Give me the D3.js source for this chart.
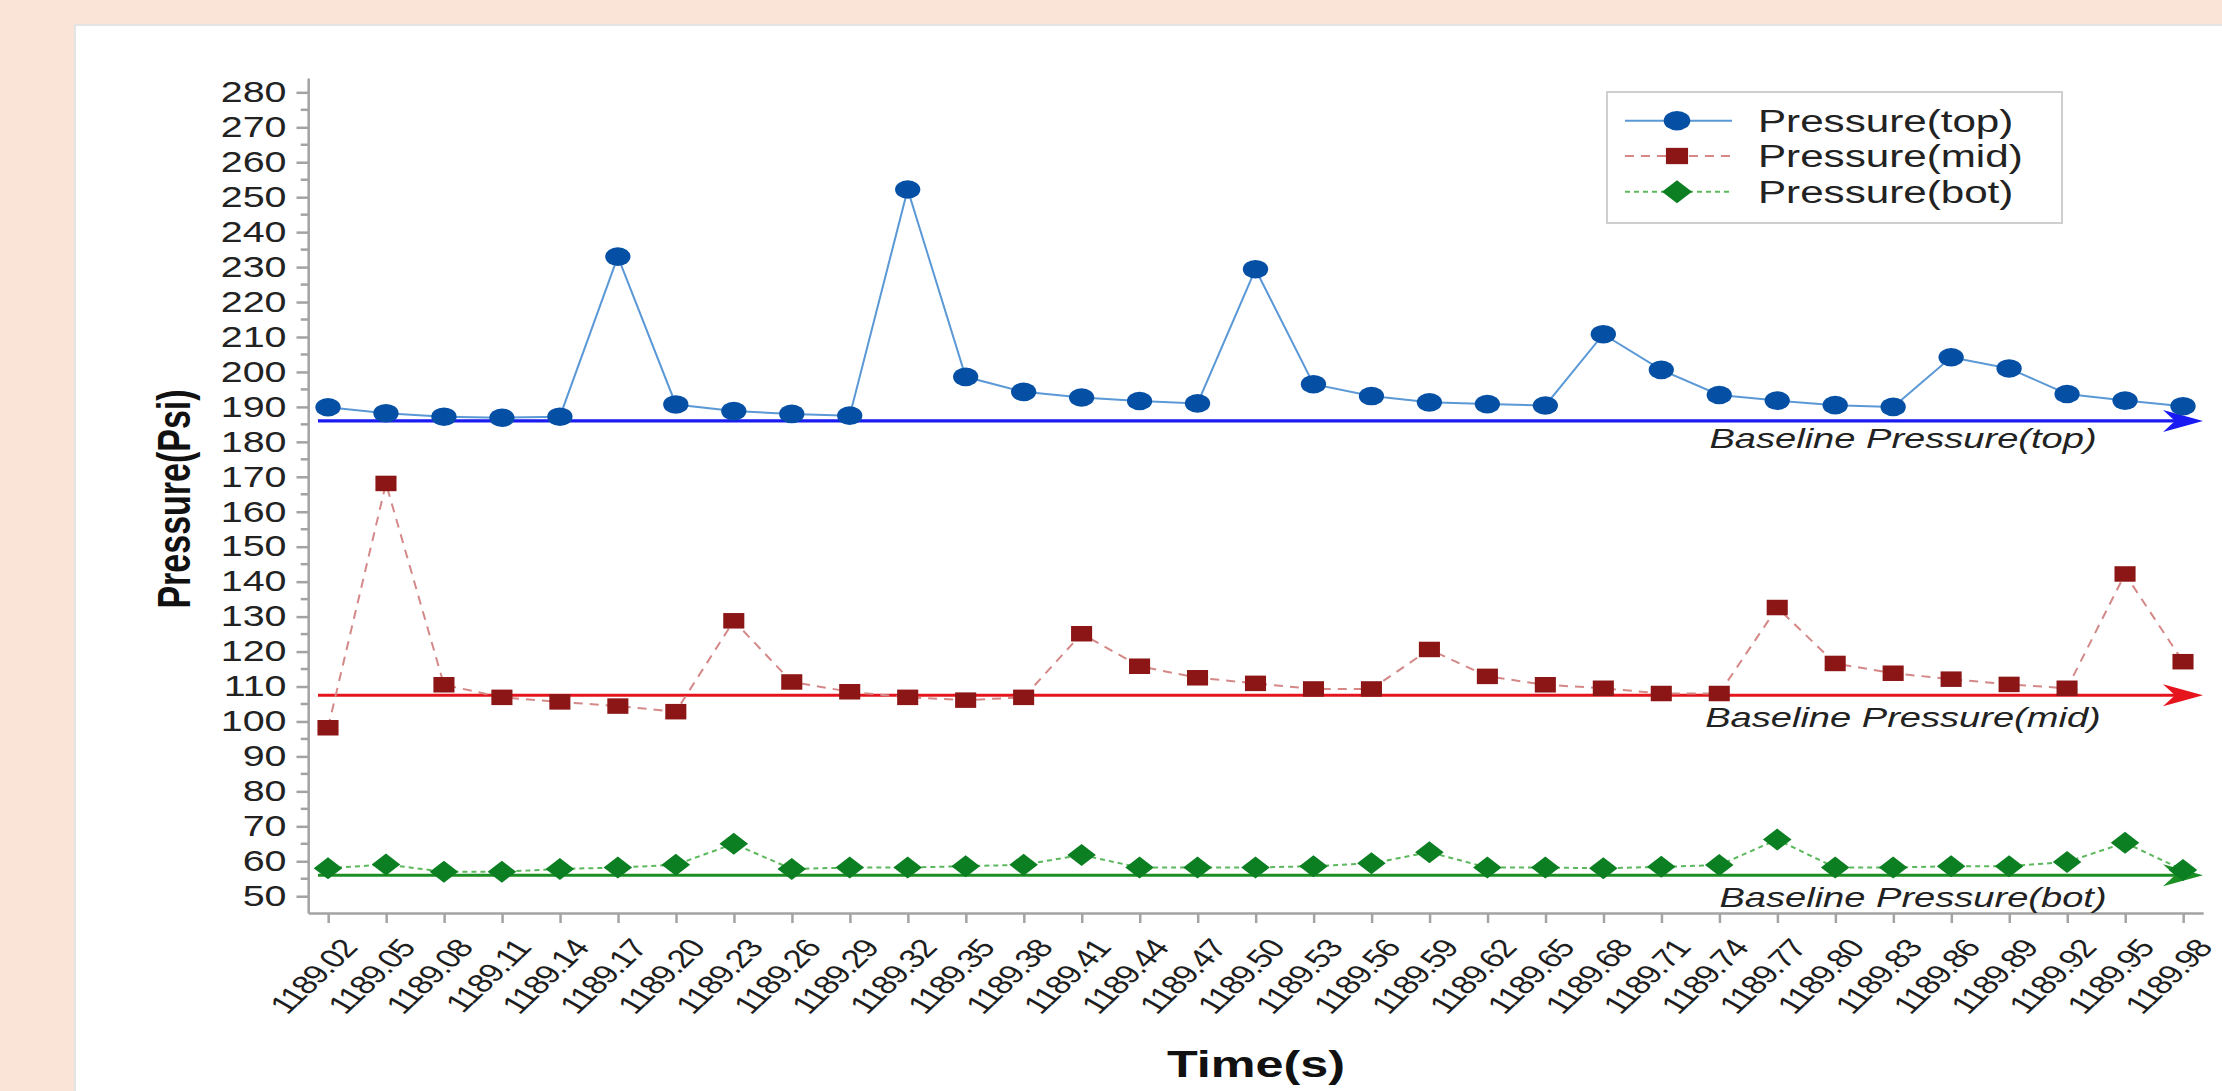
<!DOCTYPE html>
<html><head><meta charset="utf-8">
<script src="https://cdn.jsdelivr.net/npm/d3@7"></script>
<style>html,body{margin:0;padding:0;background:#fae4d8;overflow:hidden}svg{display:block}</style>
</head><body><svg id="chart"></svg>
<script>
const times = ["1189.02","1189.05","1189.08","1189.11","1189.14","1189.17","1189.20","1189.23","1189.26","1189.29","1189.32","1189.35","1189.38","1189.41","1189.44","1189.47","1189.50","1189.53","1189.56","1189.59","1189.62","1189.65","1189.68","1189.71","1189.74","1189.77","1189.80","1189.83","1189.86","1189.89","1189.92","1189.95","1189.98"];
const pressureTop = [189.9,188.2,187.2,186.9,187.2,233.0,190.7,188.8,188.0,187.5,252.2,198.6,194.3,192.7,191.7,191.0,229.4,196.5,193.1,191.3,190.8,190.4,210.8,200.6,193.4,191.8,190.5,190.0,204.2,201.0,193.7,191.8,190.2];
const pressureMid = [98.2,168.1,110.5,106.9,105.6,104.4,102.8,128.8,111.3,108.5,106.9,106.1,106.9,125.1,115.8,112.5,110.9,109.3,109.3,120.6,112.9,110.5,109.5,108.0,108.0,132.6,116.6,113.8,112.1,110.6,109.5,142.2,117.1];
const pressureBot = [58.0,59.1,57.0,57.0,57.8,58.2,59.0,65.0,57.8,58.2,58.2,58.6,59.0,61.8,58.2,58.2,58.2,58.6,59.4,62.6,58.2,58.2,58.0,58.4,58.9,66.2,58.2,58.2,58.6,58.6,59.8,65.3,57.5];
const baselineValues = [186, 107.5, 56];
const seriesNames = ["Pressure(top)","Pressure(mid)","Pressure(bot)"];
const baselineNames = ["Baseline Pressure(top)","Baseline Pressure(mid)","Baseline Pressure(bot)"];
const yTickValues = d3.range(50, 281, 10);
const yMinorValues = d3.range(55, 280, 10);
const yDomain = [45.2, 284.1];
const xTitle = "Time(s)";
const yTitle = "Pressure(Psi)";

const W = 2222, H = 1091, S = 1.36;
const X = v => v / S;
const FONT = "'Liberation Sans', Arial, Helvetica, sans-serif";

const svg = d3.select("#chart").attr("width", W).attr("height", H)
  .attr("viewBox", `0 0 ${W / S} ${H}`).attr("preserveAspectRatio", "none")
  .style("font-family", FONT);

svg.append("rect").attr("x", 0).attr("y", 0).attr("width", W / S).attr("height", H).attr("fill", "#fae4d8");
svg.append("rect").attr("x", X(75)).attr("y", 25).attr("width", X(W)).attr("height", H)
  .attr("fill", "#fff").attr("stroke", "#e4e4e4").attr("stroke-width", 2).attr("vector-effect", "non-scaling-stroke");

const x = d3.scalePoint().domain(times).range([X(308), X(2203)]).padding(0.345);
const y = d3.scaleLinear().domain(yDomain).range([913, 78]);

const axisColor = "#a3a3a3";

// Y axis
const gy = svg.append("g").attr("transform", `translate(${X(308)},0)`)
  .call(d3.axisLeft(y).tickValues(yTickValues).tickSize(X(11.5)).tickPadding(X(10)).tickSizeOuter(0));
gy.selectAll("path,line").attr("stroke", axisColor).attr("stroke-width", 2.5).attr("vector-effect", "non-scaling-stroke");
gy.selectAll("text").attr("font-size", 29).attr("fill", "#222").attr("font-family", FONT);
gy.selectAll(".minor").data(yMinorValues).enter().append("line").attr("class", "minor")
  .attr("x1", -X(7.3)).attr("x2", 0).attr("y1", d => y(d)).attr("y2", d => y(d))
  .attr("stroke", axisColor).attr("stroke-width", 2.5).attr("vector-effect", "non-scaling-stroke");

// X axis
const gx = svg.append("g").attr("transform", `translate(0,913)`)
  .call(d3.axisBottom(x).tickSize(10).tickSizeOuter(0));
gx.selectAll("path,line").attr("stroke", axisColor).attr("stroke-width", 2.5).attr("vector-effect", "non-scaling-stroke");
gx.selectAll("text").attr("font-size", 26).attr("fill", "#1e1e1e").attr("font-family", FONT)
  .attr("letter-spacing", "-1px")
  .attr("text-anchor", "end").attr("x", 0).attr("y", 0).attr("dy", "0.35em")
  .attr("transform", `translate(${X(20)},30) rotate(-52)`);

// Axis titles
svg.append("text").attr("transform", `translate(${X(190)},499) rotate(-90)`)
  .attr("text-anchor", "middle").attr("font-size", 34).attr("font-weight", "bold").attr("fill", "#111").text(yTitle);
svg.append("text").attr("x", X(1256)).attr("y", 1077)
  .attr("text-anchor", "middle").attr("font-size", 37).attr("font-weight", "bold").attr("fill", "#111").text(xTitle);

// Baselines with arrows
const baseColors = ["#1a1af2", "#e6141c", "#1c8f24"];
const baseLabelX = [1903, 1903, 1913];
const baseLabelDy = [27, 32, 32];
baselineValues.forEach((v, i) => {
  const yy = y(v);
  const tip = X(2203), back = X(2203 - 40), notch = X(2203 - 28);
  svg.append("line").attr("x1", X(318)).attr("x2", notch + X(2)).attr("y1", yy).attr("y2", yy)
    .attr("stroke", baseColors[i]).attr("stroke-width", 3.2).attr("vector-effect", "non-scaling-stroke");
  svg.append("path").attr("d", `M${tip},${yy} L${back},${yy - 11} L${notch},${yy} L${back},${yy + 11} Z`)
    .attr("fill", baseColors[i]);
  svg.append("text").attr("x", X(baseLabelX[i])).attr("y", yy + baseLabelDy[i])
    .attr("text-anchor", "middle").attr("font-size", 28).attr("font-style", "italic").attr("fill", "#222").text(baselineNames[i]);
});

// Series
const series = [
  {name: seriesNames[0], values: pressureTop, line: "#5a98d6", marker: "#0550a5", dash: null, shape: "circle"},
  {name: seriesNames[1], values: pressureMid, line: "#d48888", marker: "#8c1616", dash: "9,7", shape: "square"},
  {name: seriesNames[2], values: pressureBot, line: "#5cb85c", marker: "#0b7f22", dash: "5,4", shape: "diamond"}
];
const line = d3.line().x((d, i) => x(times[i])).y(d => y(d));

function drawMarker(g, shape, cx, cy, color, scale) {
  const k = scale || 1;
  if (shape === "circle") {
    g.append("circle").attr("cx", cx).attr("cy", cy).attr("r", 9.3 * k).attr("fill", color);
  } else if (shape === "square") {
    const s = 15.5 * k;
    g.append("rect").attr("x", cx - s / 2).attr("y", cy - s / 2).attr("width", s).attr("height", s).attr("fill", color);
  } else {
    const hw = 10.5 * k, hh = 11 * k;
    g.append("path").attr("d", `M${cx},${cy - hh} L${cx + hw},${cy} L${cx},${cy + hh} L${cx - hw},${cy} Z`).attr("fill", color);
  }
}

series.forEach(s => {
  const g = svg.append("g");
  g.append("path").datum(s.values).attr("d", line).attr("fill", "none")
    .attr("stroke", s.line).attr("stroke-width", 2).attr("vector-effect", "non-scaling-stroke")
    .attr("stroke-dasharray", s.dash);
  s.values.forEach((v, i) => drawMarker(g, s.shape, x(times[i]), y(v), s.marker));
});

// Legend
const lg = svg.append("g");
lg.append("rect").attr("x", X(1607)).attr("y", 92).attr("width", X(455)).attr("height", 131)
  .attr("fill", "#fff").attr("stroke", "#cfcfcf").attr("stroke-width", 2).attr("vector-effect", "non-scaling-stroke");
const rowY = [120.7, 156, 191.7];
series.forEach((s, i) => {
  const ry = rowY[i];
  lg.append("line").attr("x1", X(1625)).attr("x2", X(1732)).attr("y1", ry).attr("y2", ry)
    .attr("stroke", s.line).attr("stroke-width", 2).attr("vector-effect", "non-scaling-stroke")
    .attr("stroke-dasharray", s.dash);
  drawMarker(lg, s.shape, X(1677), ry, s.marker, 1.05);
  lg.append("text").attr("x", X(1758)).attr("y", ry + 11).attr("font-size", 31).attr("fill", "#222").text(s.name);
});
</script>
</body></html>
